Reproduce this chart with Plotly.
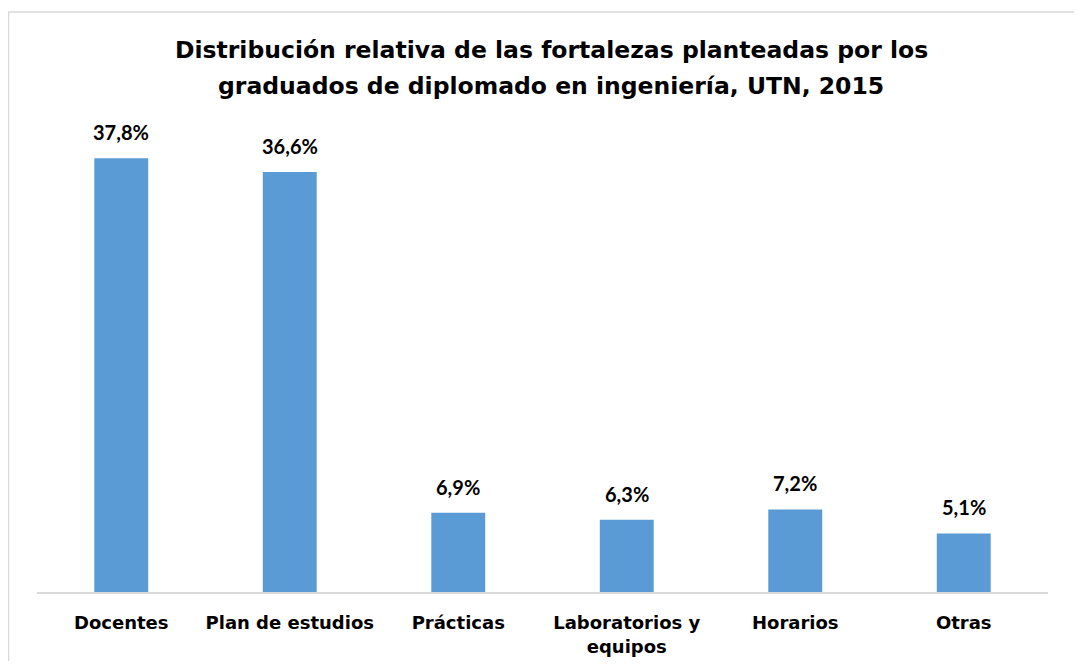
import plotly.graph_objects as go

categories = ["Docentes", "Plan de estudios", "Prácticas", "Laboratorios y<br>equipos", "Horarios", "Otras"]
values = [37.8, 36.6, 6.9, 6.3, 7.2, 5.1]
value_labels = ["37,8%", "36,6%", "6,9%", "6,3%", "7,2%", "5,1%"]

title_lines = ["Distribución relativa de las fortalezas planteadas por los",
               "graduados de diplomado en ingeniería, UTN, 2015"]

OFF = 8  # page body margin
W, H = 1082 - 2 * OFF, 669 - 2 * OFF
L, R, T, B = 37 - OFF, 1048 - OFF, 133 - OFF, 592 - OFF

fig = go.Figure()
fig.add_trace(go.Bar(
    x=categories, y=values,
    marker=dict(color="#5B9BD5", line=dict(width=0)),
    width=0.32,
    hoverinfo="skip",
))

for c, v, t in zip(categories, values, value_labels):
    fig.add_annotation(
        x=c, y=v, text=t, showarrow=False, yanchor="bottom", yshift=12,
        font=dict(family="Lato", size=20, color="#000000", weight="bold"),
    )

pw, ph = R - L, B - T
# title lines
for i, line in enumerate(title_lines):
    yc = [50, 86][i] - OFF
    fig.add_annotation(
        text=line, xref="paper", yref="paper",
        x=(551 - OFF - L) / pw, y=(B - yc) / ph,
        xanchor="center", yanchor="middle", showarrow=False,
        font=dict(family="DejaVu Sans", size=23.5, color="#000000", weight="bold"),
    )

# chart border
fig.add_shape(type="rect", xref="paper", yref="paper",
              x0=(0.5 - L) / pw, x1=(1300 - L) / pw,
              y0=(B - 900) / ph, y1=(B - (12 - OFF)) / ph,
              line=dict(color="#D9D9D9", width=1.5), fillcolor="rgba(0,0,0,0)", layer="below")

fig.update_layout(
    width=W, height=H,
    margin=dict(l=L, r=W - R, t=T, b=H - B, pad=0, autoexpand=False),
    paper_bgcolor="white", plot_bgcolor="white",
    showlegend=False,
    xaxis=dict(
        showline=True, linecolor="#D9D9D9", linewidth=1.5,
        showgrid=False, ticks="", ticklabelstandoff=14, automargin=False,
        tickfont=dict(family="DejaVu Sans", size=18, color="#000000", weight="bold"),
        fixedrange=True,
    ),
    yaxis=dict(
        range=[0, 40], visible=False, showgrid=False, zeroline=False, automargin=False,
    ),
)

fig.write_html("out.html")
